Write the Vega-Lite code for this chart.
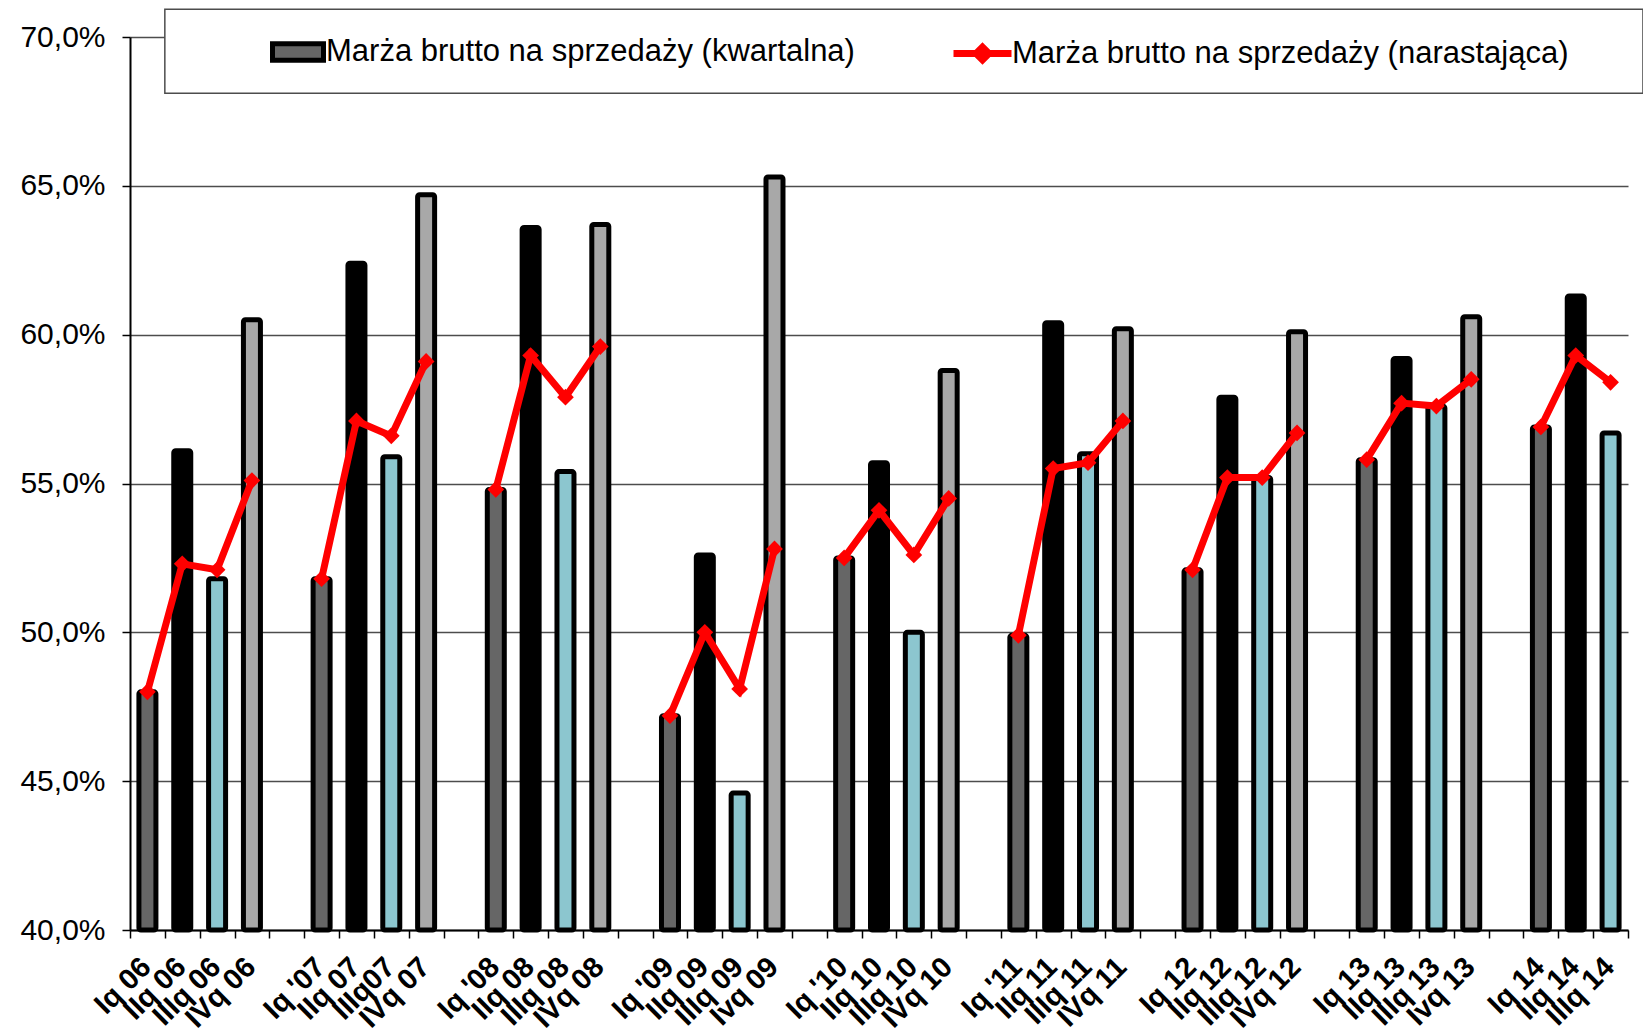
{
  "$schema": "https://vega.github.io/schema/vega-lite/v6.json",
  "width": 1498,
  "height": 893,
  "autosize": {"type": "none"},
  "padding": {"left": 130, "top": 37, "right": 15, "bottom": 99},
  "background": "white",
  "config": {"view": {"stroke": null}, "font": "Liberation Sans"},
  "layer": [
    {
      "data": {"values": [{}]},
      "mark": {"type": "rect", "fill": "white", "stroke": "#4d4d4d", "strokeWidth": 1.5},
      "encoding": {
        "x": {"datum": 1, "type": "quantitative", "scale": {"domain": [0, 43], "nice": false, "zero": false},
          "axis": {"orient": "bottom", "values": [0,1,2,3,4,5,6,7,8,9,10,11,12,13,14,15,16,17,18,19,20,21,22,23,24,25,26,27,28,29,30,31,32,33,34,35,36,37,38,39,40,41,42,43],
            "labels": false, "domain": false, "grid": false, "ticks": true, "tickSize": 8, "tickColor": "black", "tickWidth": 1.5, "title": null}},
        "x2": {"datum": 43.43},
        "y": {"datum": 70.93, "type": "quantitative", "scale": {"domain": [40, 70], "nice": false, "zero": false},
          "axis": {"title": null, "grid": true, "gridColor": "#4d4d4d", "gridWidth": 1.5, "domainColor": "black", "domainWidth": 2, "tickColor": "black", "tickWidth": 1.5, "tickSize": 8, "labelFontSize": 30, "labelColor": "black", "labelPadding": 17, "values": [40,45,50,55,60,65,70], "labelExpr": "replace(format(datum.value,'.1f'),'.',',')+'%'"}},
        "y2": {"datum": 68.11}
      }
    },
    {
      "data": {"values": [
        {"lab": "Iq 06", "q": "I", "yr": "06", "v": 48.0, "n": 48.0},
        {"lab": "IIq 06", "q": "II", "yr": "06", "v": 56.1, "n": 52.3},
        {"lab": "IIIq 06", "q": "III", "yr": "06", "v": 51.8, "n": 52.1},
        {"lab": "IVq 06", "q": "IV", "yr": "06", "v": 60.5, "n": 55.1},
        {"lab": "Iq '07", "q": "I", "yr": "07", "v": 51.8, "n": 51.8},
        {"lab": "IIq 07", "q": "II", "yr": "07", "v": 62.4, "n": 57.1},
        {"lab": "IIIq07", "q": "III", "yr": "07", "v": 55.9, "n": 56.6},
        {"lab": "IVq 07", "q": "IV", "yr": "07", "v": 64.7, "n": 59.1},
        {"lab": "Iq '08", "q": "I", "yr": "08", "v": 54.8, "n": 54.8},
        {"lab": "IIq 08", "q": "II", "yr": "08", "v": 63.6, "n": 59.3},
        {"lab": "IIIq 08", "q": "III", "yr": "08", "v": 55.4, "n": 57.9},
        {"lab": "IVq 08", "q": "IV", "yr": "08", "v": 63.7, "n": 59.6},
        {"lab": "Iq '09", "q": "I", "yr": "09", "v": 47.2, "n": 47.2},
        {"lab": "IIq 09", "q": "II", "yr": "09", "v": 52.6, "n": 50.0},
        {"lab": "IIIq 09", "q": "III", "yr": "09", "v": 44.6, "n": 48.1},
        {"lab": "Ivq 09", "q": "IV", "yr": "09", "v": 65.3, "n": 52.8},
        {"lab": "Iq '10", "q": "I", "yr": "10", "v": 52.5, "n": 52.5},
        {"lab": "IIq 10", "q": "II", "yr": "10", "v": 55.7, "n": 54.1},
        {"lab": "IIIq 10", "q": "III", "yr": "10", "v": 50.0, "n": 52.6},
        {"lab": "IVq 10", "q": "IV", "yr": "10", "v": 58.8, "n": 54.5},
        {"lab": "Iq '11", "q": "I", "yr": "11", "v": 49.9, "n": 49.9},
        {"lab": "IIq 11", "q": "II", "yr": "11", "v": 60.4, "n": 55.5},
        {"lab": "IIIq 11", "q": "III", "yr": "11", "v": 56.0, "n": 55.7},
        {"lab": "IVq 11", "q": "IV", "yr": "11", "v": 60.2, "n": 57.1},
        {"lab": "Iq 12", "q": "I", "yr": "12", "v": 52.1, "n": 52.1},
        {"lab": "IIq 12", "q": "II", "yr": "12", "v": 57.9, "n": 55.2},
        {"lab": "IIIq 12", "q": "III", "yr": "12", "v": 55.2, "n": 55.2},
        {"lab": "IVq 12", "q": "IV", "yr": "12", "v": 60.1, "n": 56.7},
        {"lab": "Iq 13", "q": "I", "yr": "13", "v": 55.8, "n": 55.8},
        {"lab": "IIq 13", "q": "II", "yr": "13", "v": 59.2, "n": 57.7},
        {"lab": "IIIq 13", "q": "III", "yr": "13", "v": 57.6, "n": 57.6},
        {"lab": "Ivq 13", "q": "IV", "yr": "13", "v": 60.6, "n": 58.5},
        {"lab": "Iq 14", "q": "I", "yr": "14", "v": 56.9, "n": 56.9},
        {"lab": "IIq 14", "q": "II", "yr": "14", "v": 61.3, "n": 59.3},
        {"lab": "IIIq 14", "q": "III", "yr": "14", "v": 56.7, "n": 58.4}
      ]},
      "layer": [
        {
          "mark": {"type": "bar", "size": 17, "strokeWidth": 5, "cornerRadius": 2, "strokeJoin": "round"},
          "encoding": {
            "x": {"field": "lab", "type": "nominal", "sort": null,
              "scale": {"paddingInner": 0, "paddingOuter": 0, "domain": ["Iq 06", "IIq 06", "IIIq 06", "IVq 06", " ", "Iq '07", "IIq 07", "IIIq07", "IVq 07", "  ", "Iq '08", "IIq 08", "IIIq 08", "IVq 08", "   ", "Iq '09", "IIq 09", "IIIq 09", "Ivq 09", "    ", "Iq '10", "IIq 10", "IIIq 10", "IVq 10", "     ", "Iq '11", "IIq 11", "IIIq 11", "IVq 11", "      ", "Iq 12", "IIq 12", "IIIq 12", "IVq 12", "       ", "Iq 13", "IIq 13", "IIIq 13", "Ivq 13", "        ", "Iq 14", "IIq 14", "IIIq 14"]},
              "axis": {"orient": "bottom", "title": null, "ticks": false, "tickSize": 0, "domain": true, "domainColor": "black", "domainWidth": 2, "grid": false,
                "labelAngle": -45, "labelAlign": "right", "labelBaseline": "middle", "labelFontSize": 29, "labelFontWeight": "bold", "labelColor": "black",
                "labelPadding": 32, "labelOffset": -1, "labelOverlap": false, "labelBound": false, "labelFont": "Liberation Sans"}},
            "y": {"field": "v", "type": "quantitative", "scale": {"domain": [40, 70], "nice": false, "zero": false},
              "axis": {"title": null, "grid": true, "gridColor": "#4d4d4d", "gridWidth": 1.5, "domainColor": "black", "domainWidth": 2, "tickColor": "black", "tickWidth": 1.5, "tickSize": 8, "labelFontSize": 30, "labelColor": "black", "labelPadding": 17, "values": [40,45,50,55,60,65,70], "labelExpr": "replace(format(datum.value,'.1f'),'.',',')+'%'"}},
            "y2": {"datum": 40},
            "fill": {"field": "q", "type": "nominal", "scale": {"domain": ["I", "II", "III", "IV"], "range": ["#666666", "#000000", "#8cc6cf", "#a8a8a8"]}, "legend": null},
            "stroke": {"datum": "Marża brutto na sprzedaży (kwartalna)", "scale": {"range": ["#000000"]},
              "legend": {"orient": "none", "legendX": 140, "legendY": -13, "title": null, "padding": 0,
                "symbolType": "M-1,-0.32H1V0.32H-1Z", "symbolSize": 2601, "symbolFillColor": "#666666", "symbolStrokeWidth": 5,
                "labelFontSize": 31, "labelFont": "Liberation Sans", "labelColor": "black", "labelOffset": 0, "labelLimit": 900}}
          }
        },
        {
          "mark": {"type": "line", "strokeWidth": 7, "point": {"shape": "diamond", "filled": true, "size": 280}},
          "encoding": {
            "x": {"field": "lab", "type": "nominal", "sort": null},
            "y": {"field": "n", "type": "quantitative"},
            "detail": {"field": "yr", "type": "nominal"},
            "color": {"datum": "Marża brutto na sprzedaży (narastająca)", "scale": {"range": ["#ff0000"]},
              "legend": {"orient": "none", "legendX": 820, "legendY": -16, "title": null, "padding": 0,
                "symbolType": "M-1,0H1M0,-0.22L0.22,0L0,0.22L-0.22,0Z", "symbolSize": 3364, "symbolFillColor": "#ff0000", "symbolStrokeWidth": 7,
                "labelFontSize": 31, "labelFont": "Liberation Sans", "labelColor": "black", "labelOffset": -3, "labelLimit": 900}}
          }
        }
      ]
    }
  ],
  "resolve": {"scale": {"x": "independent"}, "axis": {"x": "independent"}}
}
